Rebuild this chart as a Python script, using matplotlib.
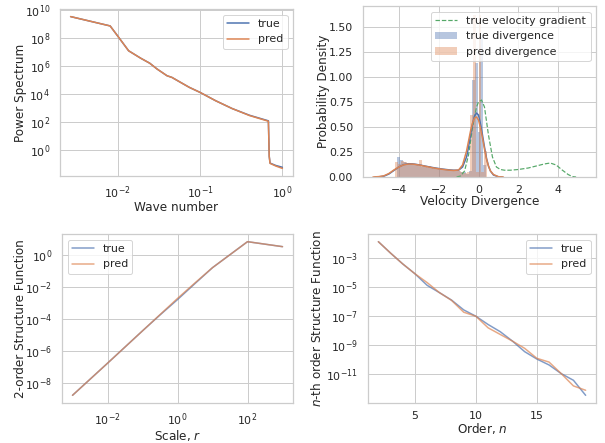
import numpy as np
import matplotlib
matplotlib.use("Agg")
import matplotlib.pyplot as plt
import seaborn as sns

# ---------------- data ----------------
# Panel 1: power spectrum (log10 values)
pow_k_exp = [-2.57, -2.09, -2.0, -1.866, -1.72, -1.61, -1.52, -1.40, -1.34, -1.24,
             -1.13, -1.0, -0.81, -0.61, -0.40, -0.17, -0.16, -0.15, -0.08, 0.0]
pow_true_exp = [9.55, 8.88, 8.17, 7.10, 6.57, 6.21, 5.79, 5.31, 5.19, 4.85,
                4.48, 4.12, 3.52, 2.96, 2.48, 2.08, -0.45, -0.95, -1.12, -1.25]
pow_pred_exp = [9.55, 8.88, 8.17, 7.10, 6.57, 6.21, 5.79, 5.31, 5.19, 4.85,
                4.48, 4.12, 3.52, 2.96, 2.46, 2.05, -0.48, -0.97, -1.16, -1.33]

# Panel 2: velocity divergence histograms + density curves
true_bin_edges = [-4.1 + 0.15 * i for i in range(31)]
true_hist = [0.20, 0.17, 0.15, 0.14, 0.13, 0.12, 0.13, 0.11, 0.10, 0.11,
             0.09, 0.10, 0.08, 0.09, 0.07, 0.08, 0.07, 0.07, 0.06, 0.07,
             0.06, 0.05, 0.05, 0.03, 0.06, 0.97, 1.14, 0.45, 1.40, 0.12]
pred_bin_edges = [-4.2 + 0.15 * i for i in range(32)]
pred_hist = [0.15, 0.13, 0.16, 0.15, 0.13, 0.14, 0.12, 0.12, 0.17, 0.11,
             0.10, 0.11, 0.09, 0.09, 0.08, 0.08, 0.07, 0.07, 0.07, 0.06,
             0.06, 0.06, 0.05, 0.04, 0.05, 0.62, 1.62, 0.05, 1.62, 0.05, 0.26]

kde_true_x = [-5.2, -5.0, -4.75, -4.5, -4.25, -4.0, -3.75, -3.5, -3.25, -3.0, -2.75,
              -2.5, -2.25, -2.0, -1.75, -1.5, -1.25, -1.0, -0.8, -0.6, -0.5, -0.4,
              -0.3, -0.2, -0.1, 0.0, 0.1, 0.2, 0.3, 0.4, 0.5, 0.6, 0.75, 1.0, 1.2]
kde_true_y = [0.0, 0.002, 0.008, 0.03, 0.065, 0.10, 0.124, 0.133, 0.13, 0.122, 0.112,
              0.102, 0.093, 0.085, 0.078, 0.072, 0.068, 0.068, 0.10, 0.20, 0.30, 0.42,
              0.53, 0.61, 0.64, 0.62, 0.53, 0.42, 0.30, 0.19, 0.11, 0.06, 0.02, 0.002, 0.0]
kde_pred_x = [-5.3, -5.0, -4.75, -4.5, -4.25, -4.0, -3.75, -3.5, -3.25, -3.0, -2.75,
              -2.5, -2.25, -2.0, -1.75, -1.5, -1.25, -1.0, -0.8, -0.6, -0.5, -0.4,
              -0.3, -0.2, -0.1, 0.0, 0.1, 0.2, 0.3, 0.4, 0.5, 0.6, 0.75, 1.0, 1.25]
kde_pred_y = [0.0, 0.004, 0.012, 0.035, 0.07, 0.10, 0.122, 0.13, 0.128, 0.12, 0.11,
              0.10, 0.09, 0.082, 0.075, 0.069, 0.065, 0.07, 0.12, 0.26, 0.36, 0.46,
              0.54, 0.59, 0.60, 0.57, 0.49, 0.39, 0.28, 0.18, 0.11, 0.06, 0.025, 0.003, 0.0]
kde_grad_x = [-1.1, -0.9, -0.7, -0.5, -0.3, -0.1, 0.0, 0.15, 0.3, 0.5, 0.7, 0.9, 1.1,
              1.3, 1.6, 2.0, 2.5, 3.0, 3.3, 3.6, 3.9, 4.2, 4.5, 4.7, 4.9]
kde_grad_y = [0.0, 0.01, 0.06, 0.22, 0.50, 0.70, 0.75, 0.77, 0.70, 0.42, 0.20, 0.10, 0.075,
              0.068, 0.068, 0.075, 0.09, 0.115, 0.13, 0.14, 0.12, 0.07, 0.025, 0.005, 0.0]

# Panel 3: 2nd-order structure function (log10)
sf_r_exp = [-3, -2, -1, -0.5, 0, 0.5, 1, 2, 3]
sf_true_exp = [-8.77, -6.77, -4.75, -3.76, -2.80, -1.80, -0.81, 0.81, 0.50]
sf_pred_exp = [-8.77, -6.77, -4.75, -3.74, -2.73, -1.76, -0.81, 0.81, 0.50]

# Panel 4: n-th order structure function (log10)
orders = list(range(2, 20))
nsf_true_exp = [-1.87, -2.66, -3.41, -4.09, -4.89, -5.39, -5.91, -6.59, -7.03,
                -7.60, -8.10, -8.75, -9.48, -9.99, -10.40, -11.0, -11.46, -12.5]
nsf_pred_exp = [-1.87, -2.66, -3.41, -4.09, -4.70, -5.39, -5.93, -6.75, -7.03,
                -7.83, -8.29, -8.75, -9.25, -9.94, -10.20, -11.0, -11.85, -12.15]
nsf_yticks_exp = [-11, -9, -7, -5, -3]

# ---------------- style ----------------
sns.set_theme(style="whitegrid", context="notebook")
plt.rcParams['font.family'] = ['DejaVu Sans']
plt.rcParams['mathtext.fontset'] = 'dejavusans'
plt.rcParams['axes.labelpad'] = 0.0
plt.rcParams['xtick.major.pad'] = 2.0
plt.rcParams['ytick.major.pad'] = 4.0

C0, C1, C2 = "#4C72B0", "#DD8452", "#55A868"

fig = plt.figure(figsize=(605 / 72, 443 / 72), dpi=72)
ax1 = fig.add_axes([60 / 605, 1 - 176 / 443, 233 / 605, 167 / 443])
ax2 = fig.add_axes([363 / 605, 1 - 177 / 443, 233 / 605, 171 / 443])
ax3 = fig.add_axes([62 / 605, 1 - 403 / 443, 231 / 605, 169 / 443])
ax4 = fig.add_axes([368 / 605, 1 - 403 / 443, 228 / 605, 169 / 443])

# Panel 1
k = 10 ** np.array(pow_k_exp)
ax1.loglog(k, 10 ** np.array(pow_true_exp), color=C0, lw=1.5, label="true")
ax1.loglog(k, 10 ** np.array(pow_pred_exp), color=C1, lw=1.5, label="pred")
ax1.set_xlabel("Wave number", labelpad=0)
ax1.set_ylabel("Power Spectrum", labelpad=-2)
ax1.legend(loc="upper right")

# Panel 2
ax2.plot(kde_grad_x, kde_grad_y, color=C2, ls="--", lw=1.2, label="true velocity gradient")
ax2.plot(kde_true_x, kde_true_y, color=C0, lw=1.5)
ax2.plot(kde_pred_x, kde_pred_y, color=C1, lw=1.5)
te = np.array(true_bin_edges)
pe = np.array(pred_bin_edges)
ax2.bar(te[:-1], true_hist, width=np.diff(te), align="edge", color=C0, alpha=0.4,
        linewidth=0, label="true divergence")
ax2.bar(pe[:-1], pred_hist, width=np.diff(pe), align="edge", color=C1, alpha=0.4,
        linewidth=0, label="pred divergence")
ax2.set_xlim(-5.8, 5.9)
ax2.set_ylim(0, 1.71)
ax2.set_yticks([0, 0.25, 0.5, 0.75, 1.0, 1.25, 1.5])
ax2.yaxis.set_major_formatter(matplotlib.ticker.FormatStrFormatter("%.2f"))
ax2.set_xticks([-4, -2, 0, 2, 4])
ax2.set_xlabel("Velocity Divergence", labelpad=0)
ax2.set_ylabel("Probability Density", labelpad=-1)
ax2.legend(loc="upper right")

# Panel 3
r = 10 ** np.array(sf_r_exp, dtype=float)
ax3.loglog(r, 10 ** np.array(sf_true_exp), color=C0, lw=1.5, alpha=0.7, label="true")
ax3.loglog(r, 10 ** np.array(sf_pred_exp), color=C1, lw=1.5, alpha=0.7, label="pred")
ax3.set_xticks([1e-2, 1e0, 1e2])
ax3.set_yticks([1e-8, 1e-6, 1e-4, 1e-2, 1e0])
ax3.minorticks_off()
ax3.set_xlabel("Scale, $r$", labelpad=0)
ax3.set_ylabel("2-order Structure Function", labelpad=-2)
ax3.legend(loc="upper left")

# Panel 4
ax4.semilogy(orders, 10 ** np.array(nsf_true_exp), color=C0, lw=1.5, alpha=0.7, label="true")
ax4.semilogy(orders, 10 ** np.array(nsf_pred_exp), color=C1, lw=1.5, alpha=0.7, label="pred")
ax4.set_yticks(10.0 ** np.array(nsf_yticks_exp))
ax4.minorticks_off()
ax4.set_xticks([5, 10, 15])
ax4.set_xlabel("Order, $n$", labelpad=0)
ax4.set_ylabel("$n$-th order Structure Function", labelpad=2)
ax4.legend(loc="upper right")

fig.savefig("out.png", dpi=72)
